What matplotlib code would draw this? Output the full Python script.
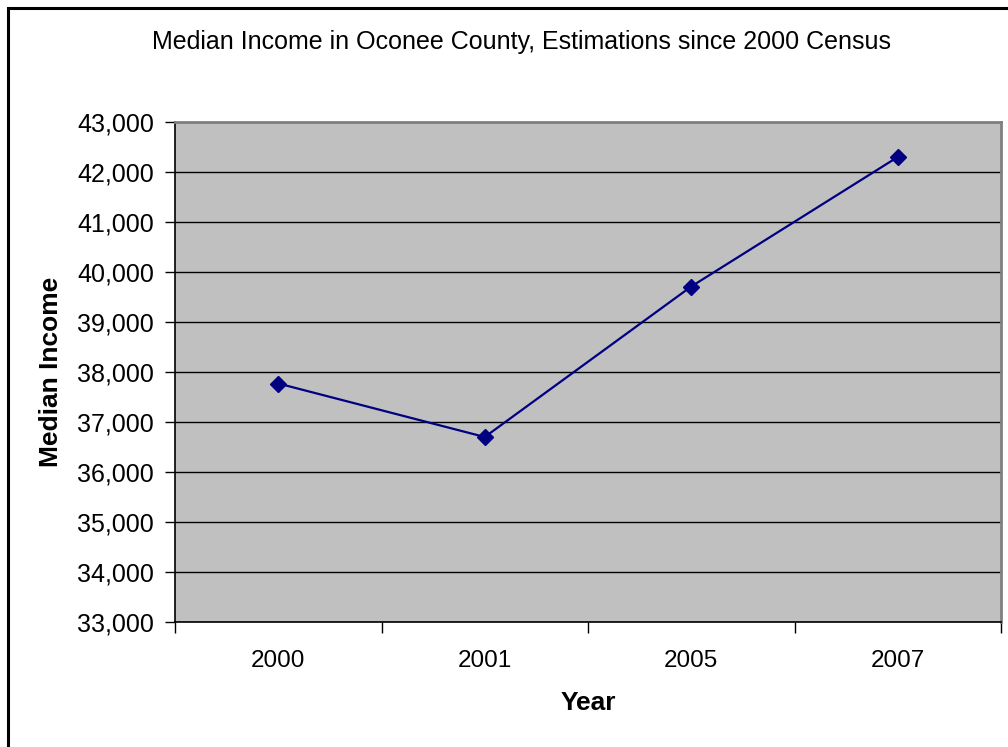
import matplotlib
matplotlib.use('Agg')
import matplotlib.pyplot as plt
from matplotlib.patches import Rectangle
from matplotlib.ticker import FuncFormatter

years = ['2000', '2001', '2005', '2007']
income = [37770, 36700, 39710, 42300]
y_ticks = list(range(33000, 44000, 1000))

plt.rcParams['font.family'] = ['Liberation Sans', 'DejaVu Sans']

fig = plt.figure(figsize=(10.08, 7.47), dpi=100)
ax = fig.add_axes([175 / 1008, 125 / 747, 826 / 1008, 500 / 747])
ax.set_facecolor('#c0c0c0')

x = list(range(len(years)))
ax.plot(x, income, color='#000080', lw=1.6, marker='D', markersize=8, zorder=3)

ax.set_ylim(33000, 43000)
ax.set_yticks(y_ticks)
ax.yaxis.set_major_formatter(FuncFormatter(lambda v, p: f'{int(v):,}'))
ax.grid(axis='y', color='black', lw=1)
ax.set_axisbelow(True)

ax.set_xlim(-0.5, len(years) - 0.5)
ax.set_xticks([i - 0.5 for i in range(len(years) + 1)])
ax.set_xticklabels([])
ax.set_xticks(x, minor=True)
ax.set_xticklabels(years, minor=True)
ax.tick_params(axis='x', which='minor', length=0, pad=20, labelsize=17.5)
ax.tick_params(axis='x', which='major', length=8, color='black', width=1)
ax.tick_params(axis='y', length=7, width=1, color='black', labelsize=18, pad=8)

for s in ['top', 'right']:
    ax.spines[s].set_color('#808080')
    ax.spines[s].set_linewidth(2)
for s in ['left', 'bottom']:
    ax.spines[s].set_color('black')
    ax.spines[s].set_linewidth(1.2)

ax.set_xlabel('Year', fontsize=19, fontweight='bold', labelpad=14)
ax.set_ylabel('Median Income', fontsize=19, fontweight='bold', labelpad=10)
fig.text(0.517, 1 - 42 / 747, 'Median Income in Oconee County, Estimations since 2000 Census',
         ha='center', va='center', fontsize=18)

# chart frame (cut off on right and bottom)
fig.add_artist(Rectangle((8 / 1008, -0.1), 1.2, 1.1 - 8 / 747, transform=fig.transFigure,
                         fill=False, ec='black', lw=2.2, clip_on=False))

fig.savefig('out.png', dpi=100)
